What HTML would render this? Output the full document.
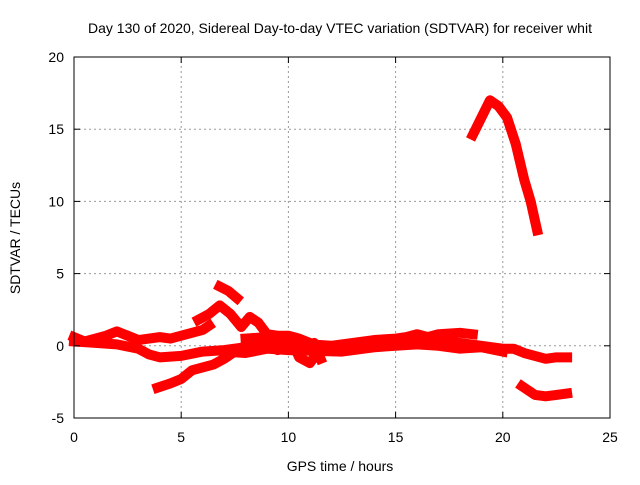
<!DOCTYPE html>
<html><head><meta charset="utf-8"><style>
body{margin:0;background:#fff}
svg text{font-family:"Liberation Sans",sans-serif;font-size:14px;fill:#000}
</style></head><body>
<svg id="chart" width="640" height="480">
<text x="340" y="33" text-anchor="middle">Day 130 of 2020, Sidereal Day-to-day VTEC variation (SDTVAR) for receiver whit</text>
<g id="grid"></g><g id="series"></g><g id="axes"></g>
<text x="340" y="471" text-anchor="middle">GPS time / hours</text>
<text transform="translate(20,238) rotate(-90)" text-anchor="middle">SDTVAR / TECUs</text>
</svg>
<script>
const xTicks=[0,5,10,15,20,25];
const yTicks=[-5,0,5,10,15,20];
const seriesA=[[0,0.6],[0.5,0.3],[1,0.5],[1.5,0.7],[2,1.0],[2.5,0.7],[3,0.4],[3.5,0.5],[4,0.6],[4.5,0.5],[5,0.7],[5.5,0.9],[6,1.1],[6.3,1.4]];
const seriesB=[[0,0.3],[1,0.2],[2,0.1],[3,-0.2],[3.5,-0.6],[4,-0.8],[5,-0.7],[6,-0.4],[7,-0.3],[8,-0.1],[9,0.3],[10,0.5],[10.5,0.2],[11,-0.1],[12,-0.3],[13,-0.1],[14,0.1],[15,0.3],[16,0.4],[17,0.2],[18,0.2],[19,0],[20,-0.2],[20.5,-0.2],[21,-0.5],[21.5,-0.7],[22,-0.9],[22.5,-0.8],[23,-0.8]];
const seriesC=[[3.9,-2.9],[4.5,-2.6],[5,-2.3],[5.5,-1.7],[6,-1.5],[6.5,-1.3],[7,-0.9],[7.5,-0.4],[8,0],[8.5,0.2],[9,0.1],[9.5,-0.3],[10,0.1]];
const seriesD=[[5.8,1.8],[6.3,2.2],[6.8,2.8],[7.3,2.2],[7.8,1.3],[8.2,2.0],[8.6,1.6],[9,0.8],[9.5,0.7],[10,0.7],[10.5,0.5],[11,0.2]];
const seriesE=[[6.8,4.1],[7.2,3.8],[7.6,3.3]];
const seriesL=[[10.2,0.2],[10.5,-0.8],[11,-1.2],[11.3,-0.6],[11.2,0.2],[11.5,-0.9]];
const seriesH=[[8,0.5],[9,0.6],[10,0.3],[11,0.1],[12,0],[13,0.2],[14,0.4],[15,0.5],[15.5,0.6],[16,0.8],[16.5,0.6],[17,0.8],[18,0.9],[18.6,0.8]];
const seriesM=[[7,-0.4],[8,-0.5],[9,-0.2],[10,-0.3],[12.5,-0.4],[14,-0.1],[15,0],[16,0.1],[17,0],[18,-0.2],[19,-0.1],[20,-0.4]];
const seriesF=[[20.9,-2.8],[21.5,-3.4],[22,-3.5],[22.5,-3.4],[23,-3.3]];
const seriesG=[[18.6,14.6],[19,15.8],[19.4,17],[19.8,16.6],[20.2,15.8],[20.6,14],[21,11.5],[21.3,10],[21.6,8]];
const allSeries=[seriesA,seriesB,seriesC,seriesD,seriesE,seriesL,seriesH,seriesM,seriesF,seriesG];
const X0=74,X1=610,Y0=418,Y1=57;
const sx=v=>X0+(v-0)/(25-0)*(X1-X0);
const sy=v=>Y0-(v+5)/(25)*(Y0-Y1);
const NS="http://www.w3.org/2000/svg";
const grid=document.getElementById('grid'),axes=document.getElementById('axes'),ser=document.getElementById('series');
function mk(tag,attrs,parent){const e=document.createElementNS(NS,tag);for(const k in attrs)e.setAttribute(k,attrs[k]);parent.appendChild(e);return e;}
xTicks.forEach(t=>{
 if(t>0&&t<25){const l=mk('line',{x1:sx(t),x2:sx(t),y1:Y0,y2:Y1,stroke:'#999','stroke-dasharray':'2,3'},grid);
 
 }
 mk('line',{x1:sx(t),x2:sx(t),y1:Y0,y2:Y0-6,stroke:'#000'},axes);
 mk('line',{x1:sx(t),x2:sx(t),y1:Y1,y2:Y1+6,stroke:'#000'},axes);
 const tx=mk('text',{x:sx(t),y:Y0+24,'text-anchor':'middle'},axes);tx.textContent=t;
 
 
});
yTicks.forEach(t=>{
 if(t>-5&&t<20){const l=mk('line',{x1:X0,x2:X1,y1:sy(t),y2:sy(t),stroke:'#999','stroke-dasharray':'2,3'},grid);
 
 }
 mk('line',{x1:X0,x2:X0+6,y1:sy(t),y2:sy(t),stroke:'#000'},axes);
 mk('line',{x1:X1,x2:X1-6,y1:sy(t),y2:sy(t),stroke:'#000'},axes);
 const tx=mk('text',{x:X0-10,y:sy(t)+5,'text-anchor':'end'},axes);tx.textContent=t;
 
 
});
const fr=mk('rect',{x:X0,y:Y1,width:X1-X0,height:Y0-Y1,fill:'none',stroke:'#000'},axes);


allSeries.forEach(s=>{
 const p=mk('polyline',{points:s.map(d=>sx(d[0])+','+sy(d[1])).join(' '),fill:'none',stroke:'#f00','stroke-width':10,'stroke-linejoin':'round','stroke-linecap':'square'},ser);
 
 
});
</script>
</body></html>
